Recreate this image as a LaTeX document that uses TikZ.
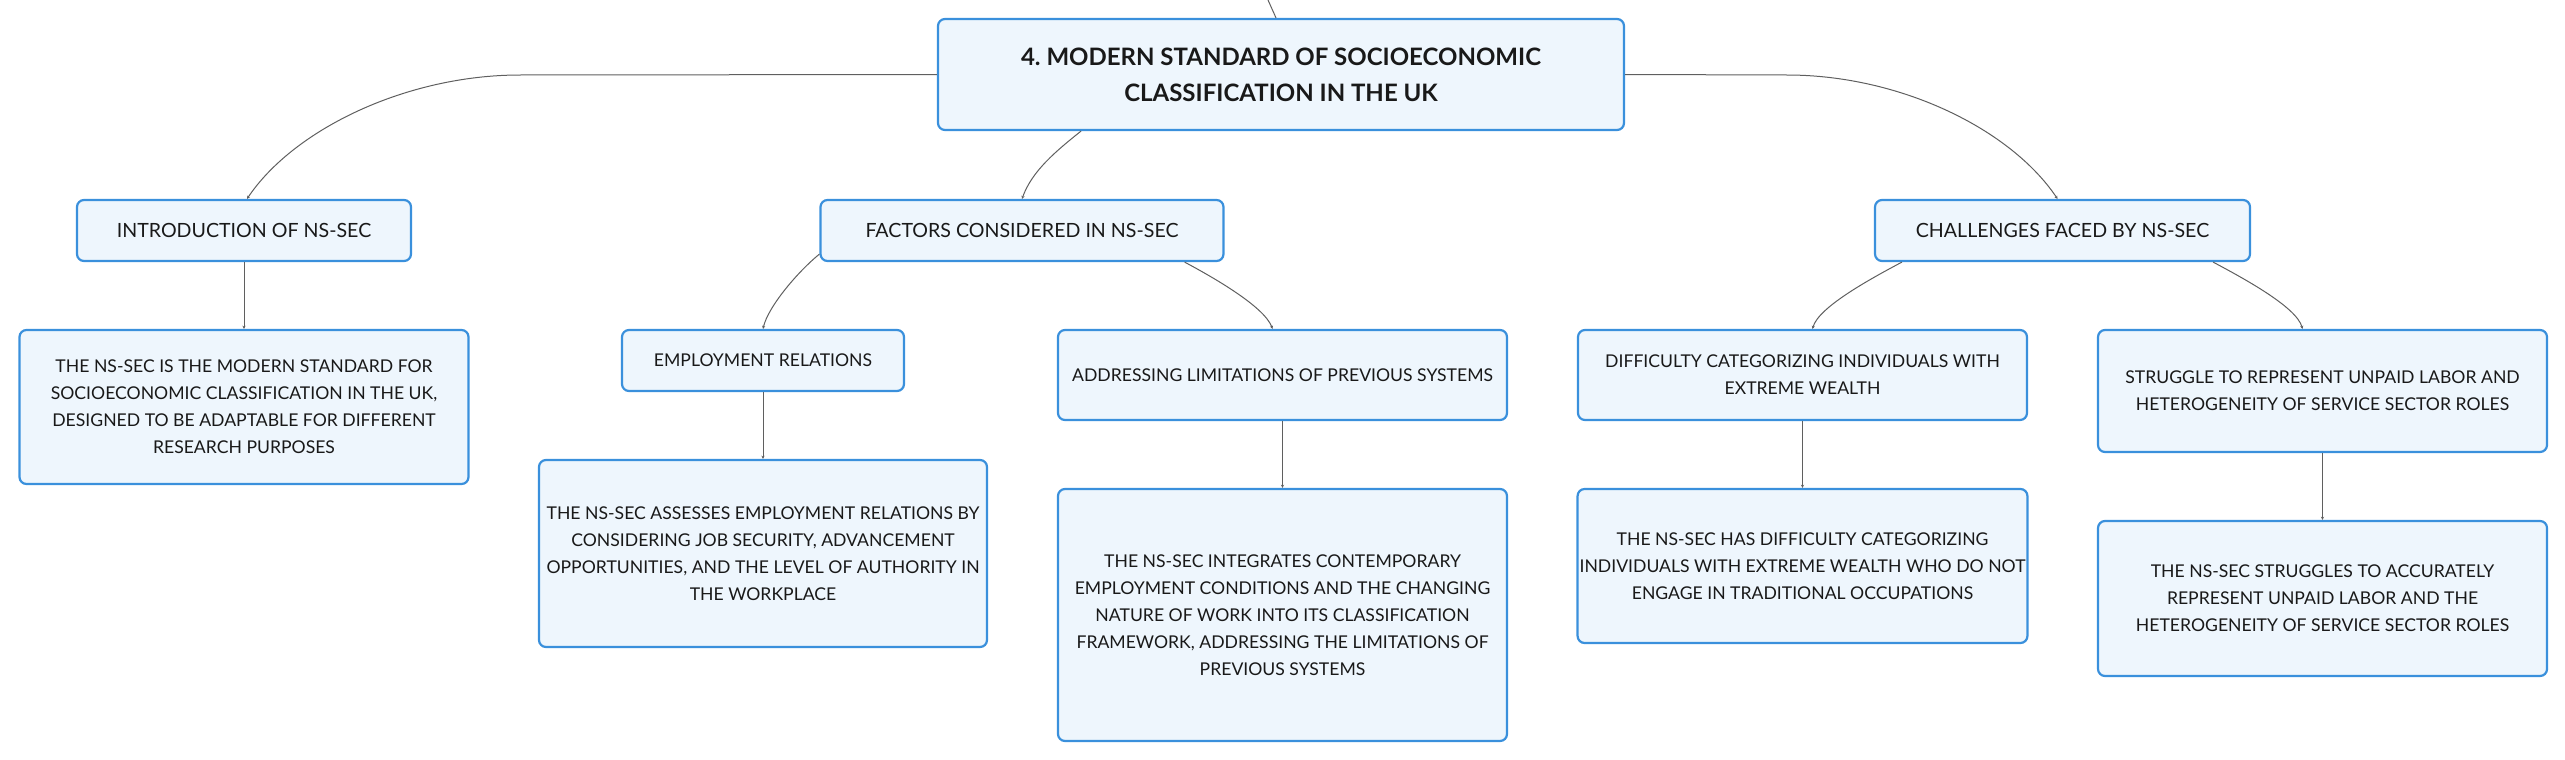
\documentclass[tikz,border=0pt]{standalone}
\usepackage{fontspec}
\setmainfont{Lato}
\usepackage{tikz}
\usetikzlibrary{arrows.meta}
\definecolor{boxline}{HTML}{3A90DC}
\definecolor{boxfill}{HTML}{EEF6FD}
\definecolor{linkgray}{HTML}{5F5F5F}
\frenchspacing

\begin{document}
\begin{tikzpicture}[x=0.5pt,y=-0.5pt]
\tikzstyle{topic}=[draw=boxline,fill=boxfill,line width=1.1pt,rounded corners=3.5pt,align=center,inner sep=1pt,text=black!90]
\tikzstyle{central}=[topic,font=\fontsize{12}{18}\selectfont\bfseries,minimum width=343pt,minimum height=55.5pt]
\tikzstyle{branch}=[topic,font=\fontsize{9.8}{13.5}\selectfont,minimum height=30.5pt]
\tikzstyle{leaf}=[topic,font=\fontsize{8.8}{13.5}\selectfont,minimum width=224.5pt]
\tikzstyle{link}=[draw=linkgray,line width=0.5pt,-{Stealth[length=1.6pt,width=1.6pt]}]
\useasboundingbox (0,0) rectangle (2565,760);
% main topic
\node [central] (root) at (1281,74.5) {4. MODERN STANDARD OF SOCIOECONOMIC\\CLASSIFICATION IN THE UK};
\coordinate (upper) at (1268,0);
\draw [link,-] ([xshift=-2.5pt]root.north) -- (upper);
% first level
\node [branch,minimum width=167pt] (intro) at (244,230.5) {INTRODUCTION OF NS-SEC};
\node [branch,minimum width=201.5pt] (factors) at (1022,230.5) {FACTORS CONSIDERED IN NS-SEC};
\node [branch,minimum width=187.5pt] (challenges) at (2062.5,230.5) {CHALLENGES FACED BY NS-SEC};
% second level
\node [leaf,minimum height=77pt] (introtext) at (244,407) {THE NS-SEC IS THE MODERN STANDARD FOR\\SOCIOECONOMIC CLASSIFICATION IN THE UK,\\DESIGNED TO BE ADAPTABLE FOR DIFFERENT\\RESEARCH PURPOSES};
\node [leaf,minimum width=141pt,minimum height=30.5pt] (emprel) at (763,360.5) {EMPLOYMENT RELATIONS};
\node [leaf,minimum height=45pt] (limits) at (1282.5,375) {ADDRESSING LIMITATIONS OF PREVIOUS SYSTEMS};
\node [leaf,minimum height=45pt] (wealth) at (1802.5,375) {DIFFICULTY CATEGORIZING INDIVIDUALS WITH\\EXTREME WEALTH};
\node [leaf,minimum height=61pt] (unpaid) at (2322.5,391) {STRUGGLE TO REPRESENT UNPAID LABOR AND\\HETEROGENEITY OF SERVICE SECTOR ROLES};
% third level
\node [leaf,minimum width=224pt,minimum height=93.5pt] (emptext) at (763,553.5) {THE NS-SEC ASSESSES EMPLOYMENT RELATIONS BY\\CONSIDERING JOB SECURITY, ADVANCEMENT\\OPPORTUNITIES, AND THE LEVEL OF AUTHORITY IN\\THE WORKPLACE};
\node [leaf,minimum height=126pt] (limtext) at (1282.5,615) {THE NS-SEC INTEGRATES CONTEMPORARY\\EMPLOYMENT CONDITIONS AND THE CHANGING\\NATURE OF WORK INTO ITS CLASSIFICATION\\FRAMEWORK, ADDRESSING THE LIMITATIONS OF\\PREVIOUS SYSTEMS};
\node [leaf,minimum height=77pt] (wealthtext) at (1802.5,566) {THE NS-SEC HAS DIFFICULTY CATEGORIZING\\INDIVIDUALS WITH EXTREME WEALTH WHO DO NOT\\ENGAGE IN TRADITIONAL OCCUPATIONS};
\node [leaf,minimum height=77.5pt] (unpaidtext) at (2322.5,598.5) {THE NS-SEC STRUGGLES TO ACCURATELY\\REPRESENT UNPAID LABOR AND THE\\HETEROGENEITY OF SERVICE SECTOR ROLES};
% links from the main topic
\coordinate (leftbend) at (520,75);
\coordinate (rightbend) at (1787,75);
\draw [link] (root.west) -- (leftbend) .. controls +(-113,0) and +(47,-70) .. ([xshift=1.5pt]intro.north);
\draw [link] ([xshift=-100pt]root.south) .. controls +(-25,20) and +(10,-28) .. (factors.north);
\draw [link] (root.east) -- (rightbend) .. controls +(113,0) and +(-47,-70) .. ([xshift=-2.5pt]challenges.north);
% links below
\draw [link] ([yshift=4pt]factors.south west) .. controls +(-22,18) and +(5,-22) .. (emprel.north);
\draw [link] ([xshift=-20pt]factors.south east) .. controls +(30,16) and +(-8,-22) .. ([xshift=-5pt]limits.north);
\draw [link] ([xshift=14pt]challenges.south west) .. controls +(-30,16) and +(6,-22) .. ([xshift=5pt]wealth.north);
\draw [link] ([xshift=-19pt]challenges.south east) .. controls +(30,16) and +(-6,-22) .. ([xshift=-10pt]unpaid.north);
\draw [link] (intro) -- (introtext);
\draw [link] (emprel) -- (emptext);
\draw [link] (limits) -- (limtext);
\draw [link] (wealth) -- (wealthtext);
\draw [link] (unpaid) -- (unpaidtext);
\end{tikzpicture}
\end{document}
